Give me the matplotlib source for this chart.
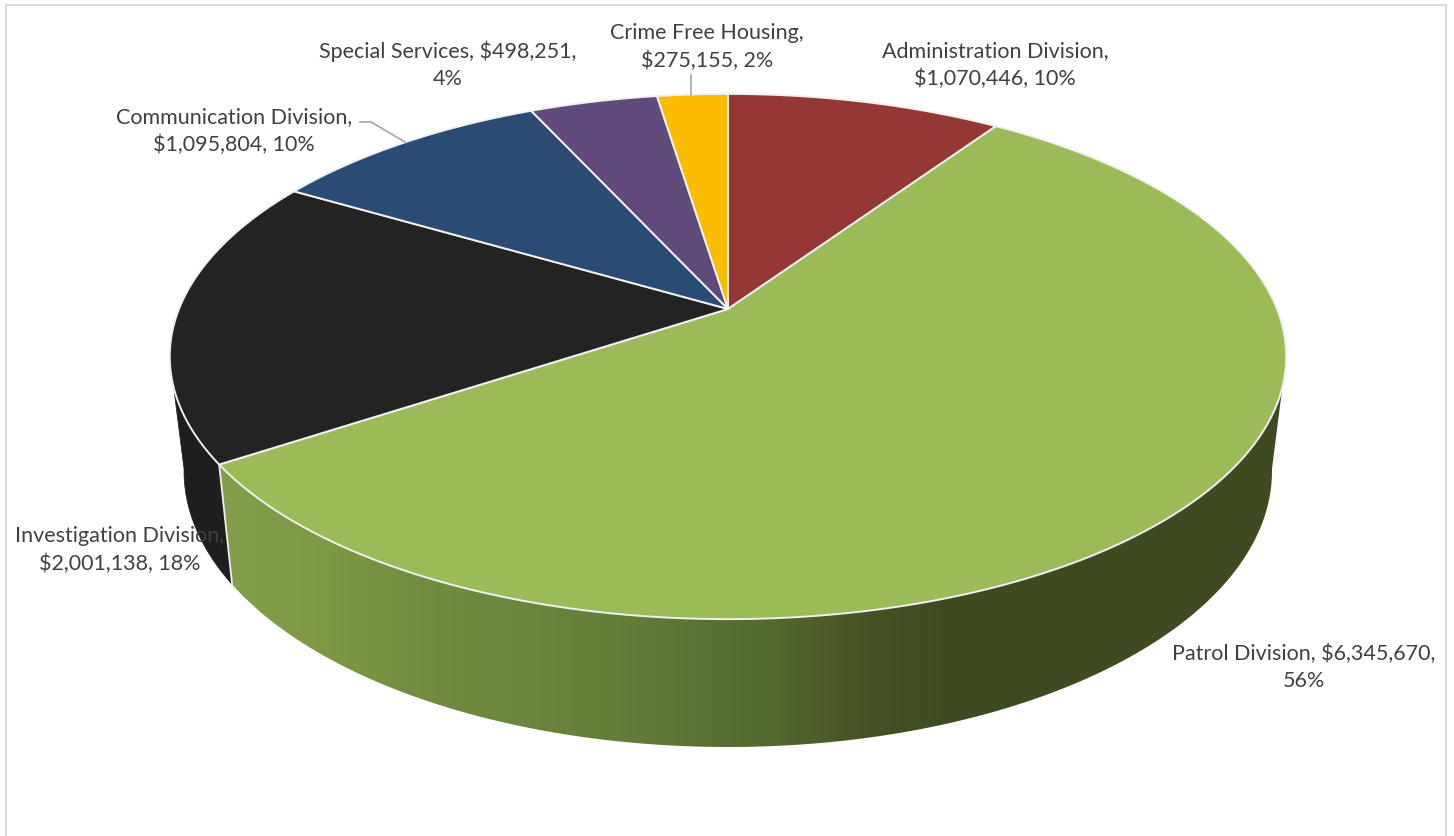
# 3D style budget pie, slices come from the amounts, drawn in pixel coordinates
import numpy as np
import matplotlib
matplotlib.use("Agg")
import matplotlib.pyplot as plt
from matplotlib.colors import to_rgb
from matplotlib.patches import Polygon

# DATA
divisions = ["Administration Division", "Patrol Division", "Investigation Division",
             "Communication Division", "Special Services", "Crime Free Housing"]
amounts = [1070446, 6345670, 2001138, 1095804, 498251, 275155]
percents = [10, 56, 18, 10, 4, 2]

# STYLE
top_colors = ["#953735", "#9bbb59", "#232323", "#2a4b73", "#604a7b", "#fbbc00"]
black_side = "#1e1e1e"
text_color = "#404040"
edge_color = "#f0f0f0"
# patrol side gets a horizontal gradient
grad_x = [210, 330, 420, 600, 730, 760, 870, 950, 1290]
grad_c = ["#84a04c", "#7c9845", "#728c40", "#66803b", "#586d31", "#556a30", "#465224", "#3e4a21", "#3e4a21"]

# LAYOUT
W, H = 1454, 837
cx, cy = 728, 310
k = 0.181
A_top, B_top = 549, 254
A_bot, B_bot, cy_bot = 535, 267, 422

label_pos = [(995, 65), (1304, 667), (120, 550), (234, 131), (448, 65), (707, 47)]
# where each label wraps
label_breaks = [",\n", ", ", ",\n", ",\n", ", ", ",\n"]
amount_breaks = [", ", ",\n", ", ", ", ", ",\n", ", "]


def top_point(t):
    x, y = np.sin(t), -np.cos(t)
    d = 1 - k * y
    return np.column_stack([cx + A_top * x / d, cy + B_top * y / d])


def bottom_point(t):
    x, y = np.sin(t), -np.cos(t)
    d = 1 - k * y
    return np.column_stack([cx + A_bot * x / d, cy_bot + B_bot * y / d])


fig = plt.figure(figsize=(W / 100, H / 100), dpi=100)
ax = fig.add_axes([0, 0, 1, 1])
ax.axis("off")

# chart frame
ax.plot([6, 6], [H, 6], color="#d9d9d9", lw=1.5, zorder=1)
ax.plot([6, 1446], [6, 6], color="#d9d9d9", lw=1.5, zorder=1)
ax.plot([1446, 1446], [6, H], color="#d9d9d9", lw=1.5, zorder=1)

fractions = np.array(amounts) / sum(amounts)
edges = np.concatenate([[0], np.cumsum(fractions)]) * 2 * np.pi

# side walls, only the two slices that face the viewer show one
patrol_top = top_point(np.linspace(np.radians(107), edges[2], 300))
patrol_bot = bottom_point(np.linspace(edges[2], np.radians(100), 300))
patrol_wall = Polygon(np.vstack([patrol_top, patrol_bot]), closed=True, transform=ax.transData,
                      facecolor="none", edgecolor="none")
ax.add_patch(patrol_wall)
xs = np.arange(grad_x[0], grad_x[-1])
rgb = np.array([to_rgb(c) for c in grad_c])
gradient = np.stack([np.interp(xs, grad_x, rgb[:, i]) for i in range(3)], axis=1)[np.newaxis, :, :]
im = ax.imshow(gradient, extent=[grad_x[0], grad_x[-1], H, 0], aspect="auto", zorder=2)
im.set_clip_path(patrol_wall)

black_top = top_point(np.linspace(edges[2], np.radians(253), 60))
black_bot = bottom_point(np.linspace(np.radians(260), edges[2], 60))
ax.add_patch(Polygon(np.vstack([black_top, black_bot]), closed=True, facecolor=black_side,
                     edgecolor=black_side, linewidth=0.5, zorder=2))

# seam between the black and the green side
seam_t = np.array([edges[2]])
seam = np.vstack([top_point(seam_t), bottom_point(seam_t)])
ax.plot(seam[:, 0], seam[:, 1], color=edge_color, lw=1.3, zorder=3)

# top surface
for i in range(len(amounts)):
    ts = np.linspace(edges[i], edges[i + 1], 200)
    pts = np.vstack([[cx, cy], top_point(ts)])
    ax.add_patch(Polygon(pts, closed=True, facecolor=top_colors[i], edgecolor=edge_color,
                         linewidth=1.4, joinstyle="round", zorder=4))

# leader lines
ax.plot([360, 371, 405], [123, 123, 143], color="#a6a6a6", lw=1.2, zorder=5)
ax.plot([691, 691], [76, 96], color="#a6a6a6", lw=1.2, zorder=5)

for i in range(len(divisions)):
    label = f"{divisions[i]}{label_breaks[i]}${amounts[i]:,}{amount_breaks[i]}{percents[i]}%"
    ax.text(label_pos[i][0], label_pos[i][1], label, ha="center", va="center",
            multialignment="center", family="Lato", fontsize=15.5, color=text_color,
            linespacing=1.42, zorder=6)

ax.set_xlim(0, W)
ax.set_ylim(H, 0)
fig.savefig("out.png", dpi=100)
